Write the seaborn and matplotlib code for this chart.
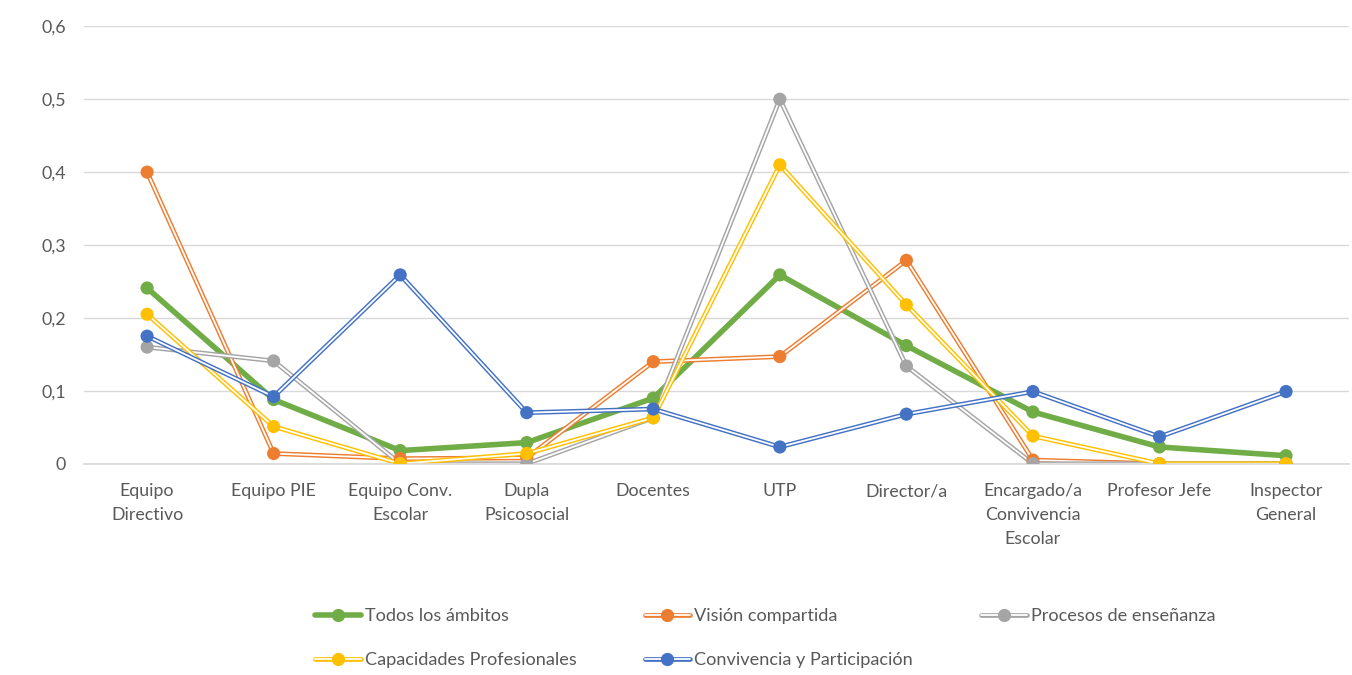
import matplotlib
matplotlib.use("Agg")
import matplotlib.pyplot as plt
from matplotlib.lines import Line2D
from matplotlib.legend_handler import HandlerTuple
from matplotlib.ticker import FuncFormatter
import seaborn as sns
import pandas as pd

# Data
categories = ["Equipo\nDirectivo", "Equipo PIE", "Equipo Conv.\nEscolar", "Dupla\nPsicosocial",
              "Docentes", "UTP", "Director/a", "Encargado/a\nConvivencia\nEscolar",
              "Profesor Jefe", "Inspector\nGeneral"]

todos = [0.241, 0.088, 0.018, 0.029, 0.090, 0.259, 0.162, 0.071, 0.023, 0.011]
vision = [0.400, 0.014, 0.007, 0.008, 0.140, 0.147, 0.279, 0.005, 0.0, 0.0]
procesos = [0.160, 0.141, 0.0, 0.0, 0.063, 0.500, 0.134, 0.0, 0.0, 0.0]
capacidades = [0.205, 0.051, 0.0, 0.014, 0.063, 0.410, 0.218, 0.038, 0.0, 0.0]
convivencia = [0.175, 0.092, 0.259, 0.070, 0.075, 0.023, 0.068, 0.099, 0.037, 0.099]

series_names = ["Todos los ámbitos", "Visión compartida", "Procesos de enseñanza",
                "Capacidades Profesionales", "Convivencia y Participación"]
series_vals = [todos, vision, procesos, capacidades, convivencia]
colors = ["#70AD47", "#ED7D31", "#A5A5A5", "#FFC000", "#4472C4"]

sns.set_theme(style="white")
plt.rcParams["font.family"] = ["Lato", "DejaVu Sans"]

fig = plt.figure(figsize=(13.52, 6.75), dpi=100)
ax = fig.add_axes([0.062, 0.313, 0.936, 0.648])

LW_OUT, LW_IN = 3.4, 1.3
x = list(range(len(categories)))
handles = []
for name, vals, col in zip(series_names, series_vals, colors):
    df = pd.DataFrame({"x": x, "y": vals})
    if name == "Todos los ámbitos":
        sns.lineplot(data=df, x="x", y="y", color=col, lw=4.0, sort=False, ax=ax)
        parts = [Line2D([], [], color=col, lw=4.0)]
    else:
        sns.lineplot(data=df, x="x", y="y", color=col, lw=LW_OUT, sort=False, ax=ax)
        sns.lineplot(data=df, x="x", y="y", color="white", lw=LW_IN, sort=False, ax=ax)
        parts = [Line2D([], [], color=col, lw=LW_OUT), Line2D([], [], color="white", lw=LW_IN)]
    sns.scatterplot(data=df, x="x", y="y", color=col, s=90, edgecolor="none", zorder=5, ax=ax)
    parts.append(Line2D([], [], color=col, lw=0, marker="o", markersize=8.5))
    handles.append(tuple(parts))

ax.set_xlim(-0.5, len(categories) - 0.5)
ax.set_ylim(0, 0.6)
ax.set_yticks([0, 0.1, 0.2, 0.3, 0.4, 0.5, 0.6])
ax.yaxis.set_major_formatter(FuncFormatter(lambda v, p: "0" if v == 0 else f"{v:.1f}".replace(".", ",")))
ax.set_xticks(x)
ax.set_xticklabels(categories, linespacing=1.6)
ax.tick_params(axis="x", length=0, pad=14, labelsize=12.8, colors="#595959")
ax.tick_params(axis="y", length=0, pad=13, labelsize=12.8, colors="#595959")
ax.grid(axis="y", color="#D9D9D9", lw=1)
ax.set_axisbelow(True)
for s in ["top", "right", "left"]:
    ax.spines[s].set_visible(False)
ax.spines["bottom"].set_color("#D9D9D9")
ax.set_xlabel("")
ax.set_ylabel("")

# row-major legend order with 3 columns
order = [0, 3, 1, 4, 2]
leg = fig.legend([handles[i] for i in order], [series_names[i] for i in order],
                 handler_map={tuple: HandlerTuple(ndivide=1, pad=0)},
                 loc="center left", bbox_to_anchor=(0.221, 0.0545), ncol=3, frameon=False,
                 fontsize=13.1, handlelength=2.5, columnspacing=3.75, labelspacing=1.52,
                 handletextpad=0.22)
for t in leg.get_texts():
    t.set_color("#595959")

fig.savefig("out.png", dpi=100)
